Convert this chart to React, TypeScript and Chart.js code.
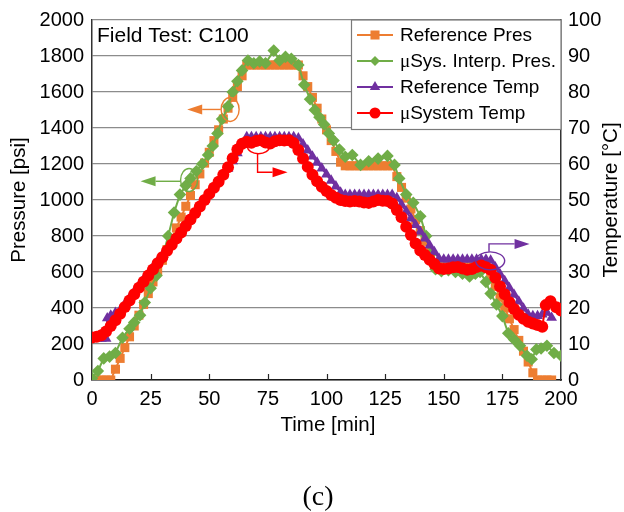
import React, { useEffect, useRef } from "react";
import { Chart, registerables } from "chart.js";

Chart.register(...registerables);

// ---- Axis ticks ----
const timeTicks = [0, 25, 50, 75, 100, 125, 150, 175, 200];
const pressureTicks = [0, 200, 400, 600, 800, 1000, 1200, 1400, 1600, 1800, 2000];
const temperatureTicks = [0, 10, 20, 30, 40, 50, 60, 70, 80, 90, 100];

// ---- Reference pressure [psi] ----
const refPresTime = [
  0, 2, 4, 6, 8, 10, 12, 14, 16, 18, 20, 22, 24, 26, 28, 30, 32, 34, 36, 38,
  40, 42, 44, 46, 48, 50, 52, 54, 56, 58, 60, 62, 64, 66, 68, 70, 72, 74, 76, 78,
  80, 82, 84, 86, 88, 90, 92, 94, 96, 98, 100, 102, 104, 106, 108, 110, 112, 114, 116, 118,
  120, 122, 124, 126, 128, 130, 132, 134, 136, 138, 140, 142, 144, 146, 148, 150, 152, 154, 156, 158,
  160, 162, 164, 166, 168, 170, 172, 174, 176, 178, 180, 182, 184, 186, 188, 190, 192, 194, 196,
];
const refPres = [
  0, 0, 0, 0, 0, 60, 120, 180, 240, 300, 360, 420, 480, 545, 605, 665, 725, 785, 845, 905,
  965, 1025, 1085, 1145, 1205, 1265, 1330, 1390, 1450, 1510, 1570, 1630, 1690, 1750, 1750, 1750, 1750, 1750, 1750, 1750,
  1750, 1750, 1750, 1750, 1750, 1690, 1630, 1570, 1510, 1450, 1390, 1330, 1270, 1210, 1190, 1190, 1190, 1190, 1190, 1190,
  1190, 1190, 1190, 1190, 1190, 1130, 1070, 1010, 950, 890, 830, 770, 710, 650, 640, 640, 640, 640, 640, 640,
  640, 640, 640, 640, 640, 580, 520, 460, 400, 340, 280, 220, 160, 100, 40, 0, 0, 0, 0,
];

// ---- µSystem interpolated pressure [psi] ----
const sysPresTime = [
  0, 2.5, 5, 7.5, 10, 13, 16, 18, 20.5, 22.5, 25, 27.5, 30, 32.5, 35, 37.5, 40, 42, 44.5, 47,
  49.5, 51.5, 53.5, 55.5, 58, 60, 62, 64, 66.5, 69, 71.5, 74, 77.5, 80, 82.5, 85, 88, 90.5, 93, 95,
  97, 99, 101, 103, 105.5, 108, 111, 114.5, 118, 122, 126, 129, 131, 134, 137, 140, 142.5, 144.5, 146.5, 149,
  152, 155, 158, 161, 163.5, 165.5, 168, 170, 172.5, 175, 177.5, 180, 182.5, 185.5, 187.5, 189.5, 191.5, 194, 197, 200,
];
const sysPres = [
  10, 50, 120, 130, 150, 235, 285, 320, 360, 430, 510, 580, 680, 800, 930, 1030, 1080, 1120, 1160, 1200,
  1250, 1300, 1370, 1450, 1520, 1600, 1660, 1720, 1775, 1760, 1770, 1760, 1830, 1775, 1795, 1785, 1750, 1640, 1560, 1500,
  1460, 1420, 1370, 1330, 1280, 1240, 1250, 1195, 1215, 1230, 1245, 1195, 1120, 1030, 985, 910, 800, 700, 615, 605,
  610, 600, 590, 575, 590, 600, 545, 480, 420, 355, 260, 225, 190, 135, 115, 170, 175, 190, 150, 135,
];

// ---- Reference temperature [°C] ----
const refTempTime = [
  0, 2, 4, 6, 6.5, 8, 10, 12, 14, 16, 18, 20, 22, 24, 26, 28, 30, 32, 34, 36,
  38, 40, 42, 44, 46, 48, 50, 52, 54, 56, 58, 60, 62, 64, 66, 68, 70, 72, 74, 76,
  78, 80, 82, 84, 86, 88, 90, 92, 94, 96, 98, 100, 102, 104, 106, 108, 110, 112, 114, 116,
  118, 120, 122, 124, 126, 128, 130, 132, 134, 136, 138, 140, 142, 144, 146, 148, 150, 152, 154, 156,
  158, 160, 162, 164, 166, 168, 170, 172, 174, 176, 178, 180, 182, 184, 186, 188, 190, 192, 194, 196,
];
const refTemp = [
  11.5, 11.5, 11.5, 11.5, 17.2, 17.9, 18.7, 19.4, 21.1, 22.8, 24.5, 26.2, 27.9, 29.6, 31.3, 33.0, 34.7, 36.4, 38.1, 39.8,
  41.5, 43.2, 44.9, 46.6, 48.3, 50.0, 51.7, 53.4, 55.1, 56.9, 58.7, 60.8, 63.0, 65.3, 67.5, 67.5, 67.5, 67.5, 67.5, 67.5,
  67.5, 67.5, 67.5, 67.5, 67.5, 67.2, 65.5, 63.8, 62.1, 60.4, 58.8, 57.1, 55.4, 53.8, 52.1, 51.5, 51.5, 51.5, 51.5, 51.5,
  51.5, 51.5, 51.5, 51.5, 51.5, 51.5, 50.6, 48.7, 46.8, 44.9, 43.1, 41.2, 39.3, 37.4, 35.6, 33.7, 33.5, 33.5, 33.5, 33.5,
  33.5, 33.5, 33.5, 33.5, 33.5, 33.5, 33.2, 31.3, 29.4, 27.5, 25.6, 23.7, 21.8, 19.9, 18.2, 17.8, 17.8, 18.2, 18.7, 17.3,
];

// ---- µSystem temperature [°C] ----
const sysTempTime = [
  0, 2, 4, 6, 8, 10, 12, 14, 16, 18, 20, 22, 24, 26, 28, 30, 32, 34, 36, 38,
  40, 42, 44, 46, 48, 50, 52, 54, 56, 58, 60, 62, 64, 66, 68, 70, 72, 74, 76, 78,
  80, 82, 84, 86, 88, 90, 92, 94, 96, 98, 100, 102, 104, 106, 108, 110, 112, 114, 116, 118,
  120, 122, 124, 126, 128, 130, 132, 134, 136, 138, 140, 142, 144, 146, 148, 150, 152, 154, 156, 158,
  160, 162, 164, 166, 168, 170, 172, 174, 176, 178, 180, 182, 184, 186, 188, 190, 192, 193.5, 195.5, 198, 200,
];
const sysTemp = [
  11.8, 12.0, 12.4, 13.5, 15.0, 16.6, 18.4, 20.3, 22.1, 23.8, 25.6, 27.3, 29.0, 30.7, 32.4, 34.1, 35.9, 37.6, 39.3, 41.0,
  42.8, 44.6, 46.4, 48.2, 50.0, 51.7, 53.4, 55.1, 57.0, 59.1, 61.6, 64.0, 65.6, 66.2, 65.9, 66.4, 66.6, 66.0, 65.7, 66.3,
  66.6, 66.5, 66.6, 65.8, 63.9, 61.5, 59.2, 57.0, 55.2, 53.7, 52.5, 51.4, 50.6, 50.0, 49.7, 49.6, 49.7, 49.6, 49.3, 49.2,
  49.6, 50.0, 49.8, 49.7, 49.0, 47.2, 45.2, 42.6, 40.3, 37.9, 36.0, 34.7, 33.4, 32.2, 31.0, 30.8, 31.0, 31.3, 31.4, 31.0,
  30.6, 30.8, 31.4, 31.8, 31.3, 30.6, 28.4, 26.0, 23.8, 21.6, 19.7, 18.1, 17.0, 16.2, 15.7, 15.3, 14.8, 20.8, 21.9, 20.2, 19.3,
];

const ORANGE = "#ED7D31";
const GREEN = "#70AD47";
const PURPLE = "#7030A0";
const RED = "#FF0000";
const SANS = "'Liberation Sans', Arial, Helvetica, sans-serif";
const SERIF = "'Liberation Serif', 'Times New Roman', serif";

type Style = "rect" | "rectRot" | "triangle" | "circle";

const series = [
  { label: "Reference Pres", t: refPresTime, v: refPres, axis: "y", color: ORANGE, style: "rect" as Style, r: 6.4, legendR: 6.4, order: 3 },
  { label: "μSys. Interp. Pres.", t: sysPresTime, v: sysPres, axis: "y", color: GREEN, style: "rectRot" as Style, r: 6.3, legendR: 5, order: 2 },
  { label: "Reference Temp", t: refTempTime, v: refTemp, axis: "y2", color: PURPLE, style: "triangle" as Style, r: 6.2, legendR: 6, order: 1 },
  { label: "μSystem Temp", t: sysTempTime, v: sysTemp, axis: "y2", color: RED, style: "circle" as Style, r: 6, legendR: 5.5, order: 0 },
];

// Callouts: ellipse around a curve plus an arrow pointing to its axis (data units)
const callouts = [
  { color: ORANGE, axis: "y", center: [58.9, 1503], rx: 9, ry: 12, path: [[54.9, 1503], [40.6, 1503]] },
  { color: GREEN, axis: "y", center: [41.4, 1111], rx: 8.5, ry: 11.5, path: [[37.7, 1104], [20.7, 1104]] },
  { color: RED, axis: "y2", center: [71.0, 64.8], rx: 11, ry: 7, path: [[70.6, 62.9], [70.6, 57.7], [83.4, 57.7]] },
  { color: PURPLE, axis: "y2", center: [169.8, 33.1], rx: 14.5, ry: 9, path: [[169.3, 35.6], [169.3, 37.8], [186.6, 37.8]] },
];

function drawMarker(ctx: CanvasRenderingContext2D, style: Style, x: number, y: number, r: number, color: string) {
  ctx.fillStyle = color;
  ctx.beginPath();
  if (style === "rect") {
    const s = r * Math.SQRT1_2;
    ctx.rect(x - s, y - s, 2 * s, 2 * s);
  } else if (style === "rectRot") {
    ctx.moveTo(x - r, y);
    ctx.lineTo(x, y - r);
    ctx.lineTo(x + r, y);
    ctx.lineTo(x, y + r);
    ctx.closePath();
  } else if (style === "triangle") {
    ctx.moveTo(x, y - r);
    ctx.lineTo(x + r * 0.866, y + r * 0.5);
    ctx.lineTo(x - r * 0.866, y + r * 0.5);
    ctx.closePath();
  } else {
    ctx.arc(x, y, r, 0, Math.PI * 2);
  }
  ctx.fill();
}

function drawArrow(ctx: CanvasRenderingContext2D, pts: number[][], color: string) {
  const n = pts.length;
  const [tx, ty] = pts[n - 1];
  const [px, py] = pts[n - 2];
  const ang = Math.atan2(ty - py, tx - px);
  const L = 15;
  const W = 5;
  const bx = tx - L * Math.cos(ang);
  const by = ty - L * Math.sin(ang);
  ctx.strokeStyle = color;
  ctx.fillStyle = color;
  ctx.lineWidth = 1.4;
  ctx.beginPath();
  ctx.moveTo(pts[0][0], pts[0][1]);
  for (let i = 1; i < n - 1; i++) ctx.lineTo(pts[i][0], pts[i][1]);
  ctx.lineTo(bx, by);
  ctx.stroke();
  ctx.beginPath();
  ctx.moveTo(tx, ty);
  ctx.lineTo(bx + W * Math.sin(ang), by - W * Math.cos(ang));
  ctx.lineTo(bx - W * Math.sin(ang), by + W * Math.cos(ang));
  ctx.closePath();
  ctx.fill();
}

// Draws a label, setting a leading "μ" in a serif face
function drawLabel(ctx: CanvasRenderingContext2D, text: string, x: number, y: number, size: number) {
  ctx.textAlign = "left";
  ctx.textBaseline = "middle";
  ctx.fillStyle = "#000";
  let cx = x;
  let rest = text;
  if (text.startsWith("μ")) {
    ctx.font = `${size}px ${SERIF}`;
    ctx.fillText("μ", cx, y);
    cx += ctx.measureText("μ").width;
    rest = text.slice(1);
  }
  ctx.font = `${size}px ${SANS}`;
  ctx.fillText(rest, cx, y);
}

const decorations = {
  id: "decorations",
  afterDatasetsDraw(chart: any) {
    const { ctx, chartArea: a, scales } = chart;
    const xs = scales.x;
    ctx.save();

    // inward tick marks on the time axis
    ctx.strokeStyle = "#262626";
    ctx.lineWidth = 1.2;
    for (const t of timeTicks) {
      if (t === timeTicks[0] || t === timeTicks[timeTicks.length - 1]) continue;
      const px = Math.round(xs.getPixelForValue(t)) + 0.5;
      ctx.beginPath();
      ctx.moveTo(px, a.bottom);
      ctx.lineTo(px, a.bottom - 6);
      ctx.stroke();
    }

    // callouts
    for (const c of callouts) {
      const ys = scales[c.axis];
      const cx = xs.getPixelForValue(c.center[0]);
      const cy = ys.getPixelForValue(c.center[1]);
      ctx.strokeStyle = c.color;
      ctx.lineWidth = 1.4;
      ctx.beginPath();
      ctx.ellipse(cx, cy, c.rx, c.ry, 0, 0, Math.PI * 2);
      ctx.stroke();
      const pts = c.path.map((p) => [xs.getPixelForValue(p[0]), ys.getPixelForValue(p[1])]);
      drawArrow(ctx, pts, c.color);
    }

    // legend box
    const lx = 351.5;
    const ly = a.top;
    const lw = a.right - lx;
    const lh = 109.5;
    ctx.fillStyle = "#fff";
    ctx.fillRect(lx, ly, lw, lh);
    ctx.strokeStyle = "#7a7a7a";
    ctx.lineWidth = 1.2;
    ctx.strokeRect(lx, ly, lw, lh);
    series.forEach((s, i) => {
      const y = ly + 15 + i * 26;
      ctx.strokeStyle = s.color;
      ctx.lineWidth = 2;
      ctx.beginPath();
      ctx.moveTo(357, y);
      ctx.lineTo(393, y);
      ctx.stroke();
      drawMarker(ctx, s.style, 375, y, s.legendR, s.color);
      drawLabel(ctx, s.label, 400, y + 1, 19);
    });

    // caption inside the plot
    ctx.fillStyle = "#000";
    ctx.font = `21px ${SANS}`;
    ctx.textAlign = "left";
    ctx.textBaseline = "middle";
    ctx.fillText("Field Test: C100", 97, a.top + 16);
    ctx.restore();
  },
  afterDraw(chart: any) {
    const { ctx, chartArea: a } = chart;
    const midY = (a.top + a.bottom) / 2;
    ctx.save();
    ctx.fillStyle = "#000";
    ctx.font = `20.5px ${SANS}`;
    ctx.textAlign = "center";
    ctx.textBaseline = "middle";
    ctx.fillText("Time [min]", 328, 425);

    ctx.save();
    ctx.translate(19, midY);
    ctx.rotate(-Math.PI / 2);
    ctx.fillText("Pressure [psi]", 0, 0);
    ctx.restore();

    ctx.save();
    ctx.translate(611, midY);
    ctx.rotate(-Math.PI / 2);
    ctx.fillText("Temperature [°C]", 0, 0);
    ctx.restore();

    ctx.font = `28px ${SERIF}`;
    ctx.textBaseline = "alphabetic";
    ctx.fillText("(c)", 318, 505);
    ctx.restore();
  },
};

const tickFont = { family: SANS, size: 20 };

export default function App() {
  const ref = useRef<HTMLCanvasElement | null>(null);

  useEffect(() => {
    if (!ref.current) return;
    const chart = new Chart(ref.current, {
      type: "scatter",
      data: {
        datasets: series.map((s) => ({
          label: s.label,
          data: s.t.map((x, i) => ({ x, y: s.v[i] })),
          yAxisID: s.axis,
          showLine: true,
          borderColor: s.color,
          backgroundColor: s.color,
          borderWidth: 2,
          pointStyle: s.style,
          pointRadius: s.r,
          pointBorderWidth: 0,
          pointBorderColor: s.color,
          pointBackgroundColor: s.color,
          order: s.order,
        })),
      },
      options: {
        animation: false,
        responsive: false,
        devicePixelRatio: 1,
        events: [],
        layout: { padding: { top: 14, left: 0, right: 0, bottom: 0 } },
        plugins: { legend: { display: false }, tooltip: { enabled: false } },
        scales: {
          x: {
            type: "linear",
            min: 0,
            max: 200,
            afterBuildTicks: (s: any) => {
              s.ticks = timeTicks.map((value) => ({ value }));
            },
            afterFit: (s: any) => {
              s.height = 132;
            },
            ticks: { font: tickFont, color: "#000", padding: 7, maxRotation: 0, autoSkip: false, callback: (v: any) => String(v) },
            grid: { display: false, drawTicks: false },
            border: { display: true, color: "#1a1a1a", width: 1.5 },
          },
          y: {
            type: "linear",
            position: "left",
            min: 0,
            max: 2000,
            afterBuildTicks: (s: any) => {
              s.ticks = pressureTicks.map((value) => ({ value }));
            },
            afterFit: (s: any) => {
              s.width = 92;
            },
            ticks: { font: tickFont, color: "#000", padding: 8, autoSkip: false, callback: (v: any) => String(v) },
            grid: { color: "#8c8c8c", lineWidth: 1.2, drawTicks: false },
            border: { display: true, color: "#333", width: 1.5 },
          },
          y2: {
            type: "linear",
            position: "right",
            min: 0,
            max: 100,
            afterBuildTicks: (s: any) => {
              s.ticks = temperatureTicks.map((value) => ({ value }));
            },
            afterFit: (s: any) => {
              s.width = 63;
            },
            ticks: { font: tickFont, color: "#000", padding: 7, autoSkip: false, callback: (v: any) => String(v) },
            grid: { drawOnChartArea: false, drawTicks: false },
            border: { display: true, color: "#333", width: 1.5 },
          },
        },
      },
      plugins: [decorations],
    } as any);
    return () => chart.destroy();
  }, []);

  return (
    <div style={{ position: "fixed", left: 0, top: 0, width: 624, height: 512, background: "#fff" }}>
      <canvas ref={ref} width={624} height={512} style={{ display: "block", width: 624, height: 512 }} />
    </div>
  );
}
